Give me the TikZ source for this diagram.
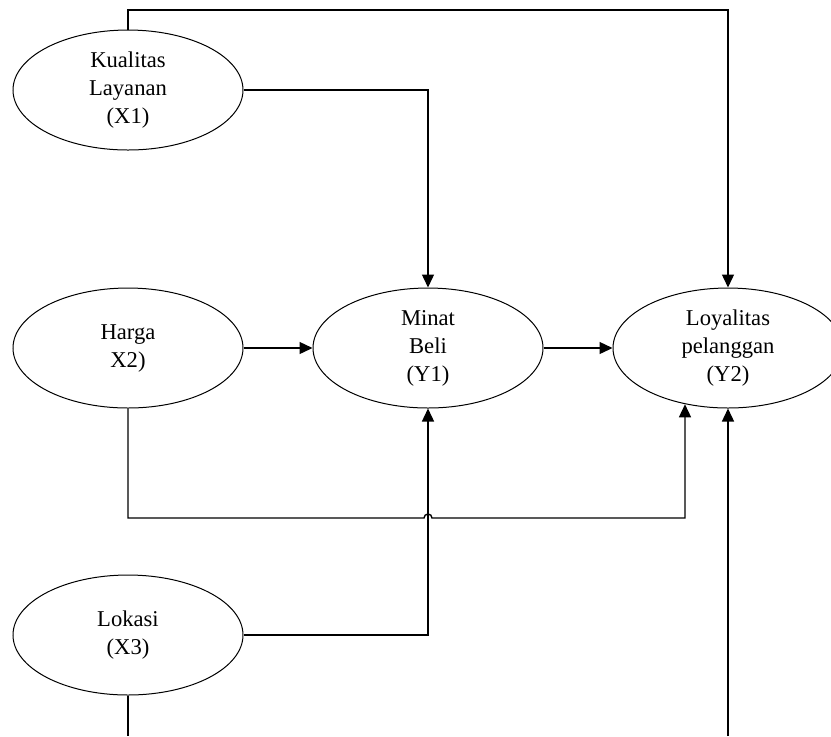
\documentclass[tikz,border=0pt]{standalone}
\usepackage{fontspec}
\setmainfont{Liberation Serif}
\usetikzlibrary{shapes.geometric,arrows.meta}
\tikzset{sc/.style={x=.5pt,y=-.5pt,line width=.7pt},
  var/.style={ellipse,draw,line width=.5pt,minimum width=115pt,minimum height=60pt,inner sep=0pt,align=center,font=\fontsize{11.3}{14}\selectfont},
  arr/.style={-{Triangle[length=6.5pt,width=6pt]}}}

\begin{document}
\begin{tikzpicture}[sc]
  \clip (0,0) rectangle (831,736);
  \node[var] (x1) at (128,90) {Kualitas\\Layanan\\(X1)};
  \node[var] (x2) at (128,348) {Harga\\X2)};
  \node[var] (x3) at (128,635) {Lokasi\\(X3)};
  \node[var] (y1) at (428,348) {Minat\\Beli\\(Y1)};
  \node[var] (y2) at (728,348) {Loyalitas\\pelanggan\\(Y2)};
  \coordinate (top) at (428,10);
  \coordinate (hb) at (685,518);
  \coordinate (jmp) at (y1.south |- hb);
  \coordinate (x3out) at (128,736);
  \coordinate (y2in) at (728,736);
  \draw[arr] (x1.north) |- (top) -| (y2.north);
  \draw[arr] (x1.east) -| (y1.north);
  \draw[arr] (x2.east) -- (y1.west);
  \draw[arr] (y1.east) -- (y2.west);
  \draw[arr] (x2.south) |- ([xshift=-2pt]jmp) arc[start angle=180,end angle=360,radius=4] -- (hb) -- (hb |- y2.233);
  \draw[arr] (x3.east) -| (y1.south);
  \draw (x3.south) -- (x3out);
  \draw[arr] (y2in) -- (y2.south);
\end{tikzpicture}
\end{document}
